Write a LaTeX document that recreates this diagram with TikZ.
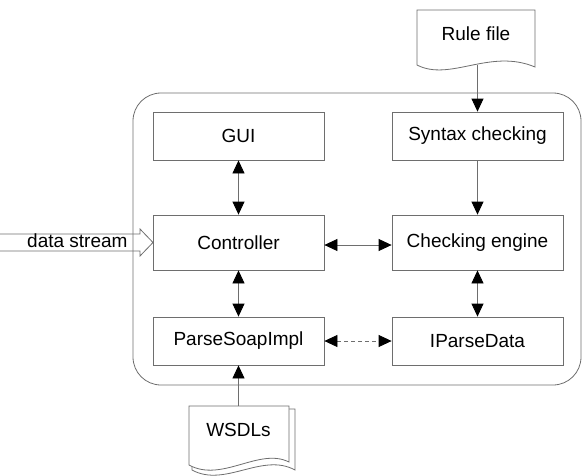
\documentclass[tikz,border=0pt]{standalone}
\usepackage{fontspec}
\setmainfont{Liberation Sans}
\usetikzlibrary{arrows.meta}
\definecolor{ln}{RGB}{110,110,110}
\tikzset{
  blk/.style={draw=ln, line width=0.8pt, minimum width=171pt, minimum height=48pt, inner sep=0pt, font=\fontsize{19}{23}\selectfont},
  tall/.style={minimum height=55pt},
  txt/.style={inner sep=0pt, font=\fontsize{19}{23}\selectfont},
  conn/.style={draw=ln, line width=0.8pt},
  hd/.style={-{Triangle[length=13pt,width=12pt,color=black]}},
  dhd/.style={{Triangle[length=13pt,width=12pt,color=black]}-{Triangle[length=13pt,width=12pt,color=black]}},
  docshape/.style={draw=ln, line width=0.8pt, fill=white}
}
\begin{document}
\begin{tikzpicture}[x=1pt,y=-1pt]
\useasboundingbox (0,0) rectangle (582,475);
% container
\draw[conn, rounded corners=28pt] (133,93) rectangle (581,385);
% boxes
\node[blk] (gui) at (238.5,136) {GUI};
\node[blk] (syn) at (477.5,136) {Syntax checking};
\node[blk,tall] (ctl) at (238.5,242.5) {Controller};
\node[blk,tall] (eng) at (477.5,242.5) {Checking engine};
\node[blk] (psi) at (238.5,341) {ParseSoapImpl};
\node[blk] (ipd) at (477.5,341) {IParseData};
% Rule file document
\draw[docshape] (417,10) -- (417,65) .. controls (450,82) and (490,48) .. (535,67) -- (535,10) -- cycle;
\node[txt] (rule) at (476,34) {Rule file};
\coordinate (rulebot) at (477.5,65);
% WSDLs documents
\draw[docshape] (192,409) -- (192,470) .. controls (225,488) and (262,452) .. (295,470) -- (295,409) -- cycle;
\draw[docshape] (189,406) -- (189,465) .. controls (222,483) and (259,447) .. (289,462) -- (289,406) -- cycle;
\node[txt] (wsdl) at (238.5,430) {WSDLs};
\coordinate (wsdltop) at (238.5,406);
% data stream hollow arrow
\draw[conn] (0,234) -- (140,234) -- (140,229) -- (153,242.5) -- (140,256) -- (140,251) -- (0,251);
\node[txt, anchor=base west] (ds) at (27,247) {data stream};
% connectors
\draw[conn,hd] (rulebot) -- (syn.north);
\draw[conn,hd] (syn.south) -- (eng.north);
\draw[conn,dhd] (gui.south) -- (ctl.north);
\draw[conn,dhd] (ctl.south) -- (psi.north);
\draw[conn,dhd] (eng.south) -- (ipd.north);
\draw[conn,dhd] ([yshift=-2.5pt]ctl.east) -- ([yshift=-2.5pt]eng.west);
\draw[conn,dhd,dash pattern=on 4pt off 3pt] (psi.east) -- (ipd.west);
\draw[conn,hd] (wsdltop) -- (psi.south);
\end{tikzpicture}
\end{document}
